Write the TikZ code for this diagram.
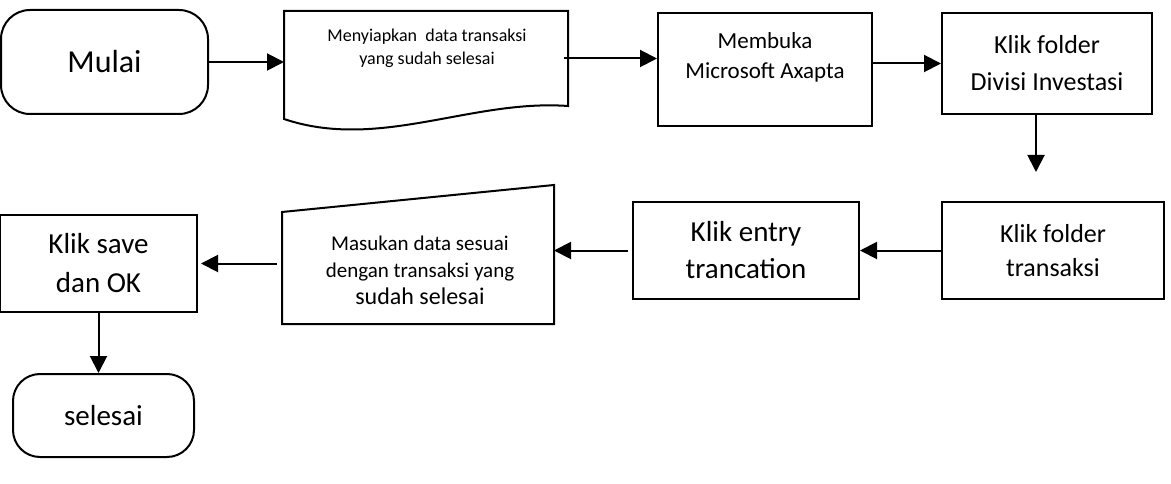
\documentclass[tikz,border=0pt]{standalone}
\usepackage{fontspec}
\setmainfont{Carlito}
\usetikzlibrary{arrows.meta}

\begin{document}
\begin{tikzpicture}[
    x=1pt, y=-1pt,
    line width=2pt,
    box/.style={draw, rectangle, inner sep=0pt, align=center},
    term/.style={draw, rectangle, rounded corners=29pt, inner sep=0pt, align=center},
    outline/.style={rectangle, inner sep=0pt},
    txt/.style={align=center, inner sep=0pt},
    arrow/.style={-{Triangle[length=17pt,width=17pt]}, line width=2pt}
  ]
  \useasboundingbox (0,0) rectangle (1171,484);

  \node[term, minimum width=207pt, minimum height=104pt, font=\fontsize{32}{38}\selectfont] (start) at (104.5,62) {Mulai};

  \node[outline, minimum width=282pt, minimum height=93pt] (prep) at (426,58.5) {};
  \draw (prep.north west) -- (prep.north east) -- (prep.south east)
    .. controls +(-97,-7) and +(95,32) .. ([yshift=-13pt]prep.south west) -- cycle;
  \node[txt, font=\fontsize{18}{23}\selectfont] (prep-txt) at (427,48) {Menyiapkan\ \ data transaksi\\yang sudah selesai};

  \node[box, minimum width=214pt, minimum height=113pt] (open) at (765,69.5) {};
  \node[txt, font=\fontsize{23}{30}\selectfont] (open-txt) at (765,57) {Membuka\\Microsoft Axapta};

  \node[box, minimum width=210pt, minimum height=101pt, font=\fontsize{26}{37}\selectfont] (divisi) at (1047,63.5) {Klik folder\\Divisi Investasi};
  \coordinate (divend) at (1036,172);

  \node[box, minimum width=222pt, minimum height=97pt, font=\fontsize{26}{34}\selectfont] (trans) at (1053,250.5) {Klik folder\\transaksi};

  \node[box, minimum width=226pt, minimum height=97pt, font=\fontsize{29}{37}\selectfont] (entry) at (746,250.5) {Klik entry\\trancation};

  \node[outline, minimum width=270pt, minimum height=110pt] (input) at (418,268) {};
  \draw (input.south west) -- (input.north west) -- ([yshift=27pt]input.north east) -- (input.south east) -- cycle;
  \node[txt, font=\fontsize{21}{27}\selectfont] (input-txt) at (420,270) {Masukan data sesuai\\dengan transaksi yang\\{\fontsize{24}{29}\selectfont sudah selesai}};

  \node[box, minimum width=197pt, minimum height=97pt, font=\fontsize{29}{39}\selectfont] (save) at (98.5,263.5) {Klik save\\dan OK};

  \node[term, rounded corners=27pt, minimum width=181pt, minimum height=83pt, font=\fontsize{29}{35}\selectfont] (finish) at (103.5,415.5) {selesai};

  \draw[arrow] (start.east) -- (start.east -| prep.west);
  \draw[arrow] ([xshift=-4pt]prep.east) -- (prep.east -| open.west);
  \draw[arrow] (divisi.west -| open.east) -- (divisi.west);
  \draw[arrow] (divisi.south -| divend) -- (divend);
  \draw[arrow] (trans.west) -- (entry.east);
  \draw[arrow] ([xshift=-4pt]entry.west) -- (entry.west -| input.east);
  \draw[arrow] ([xshift=-5pt]save.east -| input.west) -- ([xshift=3pt]save.east);
  \draw[arrow] (save.south) -- (save.south |- finish.north);
\end{tikzpicture}
\end{document}
